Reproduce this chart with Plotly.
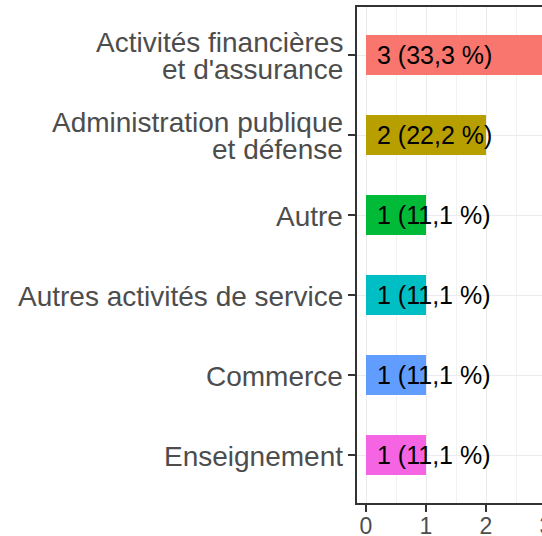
import plotly.graph_objects as go

categories = [
    "Activités financières<br>et d'assurance",
    "Administration publique<br>et défense",
    "Autre",
    "Autres activités de service",
    "Commerce",
    "Enseignement",
]
counts = [3, 2, 1, 1, 1, 1]
labels = ["3 (33,3 %)", "2 (22,2 %)", "1 (11,1 %)", "1 (11,1 %)", "1 (11,1 %)", "1 (11,1 %)"]
colors = ["#F8766D", "#B79F00", "#00BA38", "#00BFC4", "#619CFF", "#F564E3"]
x_ticks = [0, 1, 2, 3]

FONT = "Liberation Sans, Arial, Helvetica, sans-serif"
LINE_H = 27  # px between lines of the wrapped category labels

fig = go.Figure()
fig.add_trace(go.Bar(
    x=counts, y=categories, orientation="h",
    marker=dict(color=colors, line=dict(width=0)),
    width=0.5, showlegend=False, hoverinfo="skip",
))

# value labels over the bars
for c, lab in zip(categories, labels):
    fig.add_annotation(
        x=0, y=c, xref="x", yref="y", text=lab, showarrow=False,
        xanchor="left", yanchor="middle", xshift=9,
        font=dict(family=FONT, size=25, color="black"),
    )

# category labels (drawn line by line for tight line spacing)
for c in categories:
    lines = c.split("<br>")
    n = len(lines)
    for i, ln in enumerate(lines):
        fig.add_annotation(
            x=0, y=c, xref="paper", yref="y", text=ln, showarrow=False,
            xanchor="right", yanchor="middle", xshift=-12,
            yshift=((n - 1) / 2 - i) * LINE_H - 1,
            font=dict(family=FONT, size=28, color="#4D4D4D"),
        )

fig.update_layout(
    width=555, height=536,
    margin=dict(l=357, r=0, t=7, b=33, autoexpand=False),
    plot_bgcolor="white", paper_bgcolor="white",
    font=dict(family=FONT),
    bargap=0,
)
fig.update_xaxes(
    range=[-0.15, 3.15],
    tickvals=x_ticks, ticktext=[str(v) for v in x_ticks],
    showgrid=True, gridcolor="#EBEBEB", gridwidth=1.2,
    minor=dict(dtick=0.5, tick0=0, showgrid=True, gridcolor="#F2F2F2", gridwidth=0.6),
    showline=True, linecolor="#333333", linewidth=2, mirror=True,
    ticks="outside", ticklen=7, tickwidth=2, tickcolor="#333333",
    ticklabelstandoff=-6,
    tickfont=dict(size=23, color="#4D4D4D"),
    zeroline=False, automargin=False,
)
fig.update_yaxes(
    categoryorder="array", categoryarray=categories,
    range=[5.6, -0.6],
    showgrid=True, gridcolor="#EBEBEB", gridwidth=1.2,
    showline=True, linecolor="#333333", linewidth=2, mirror=True,
    ticks="outside", ticklen=7, tickwidth=2, tickcolor="#333333",
    showticklabels=False,
    zeroline=False, automargin=False,
)

fig.write_html(
    "out.html",
    config={"displayModeBar": False},
    post_script="document.body.style.margin='0';document.body.style.overflow='hidden';"
                "document.documentElement.style.overflow='hidden';",
)
